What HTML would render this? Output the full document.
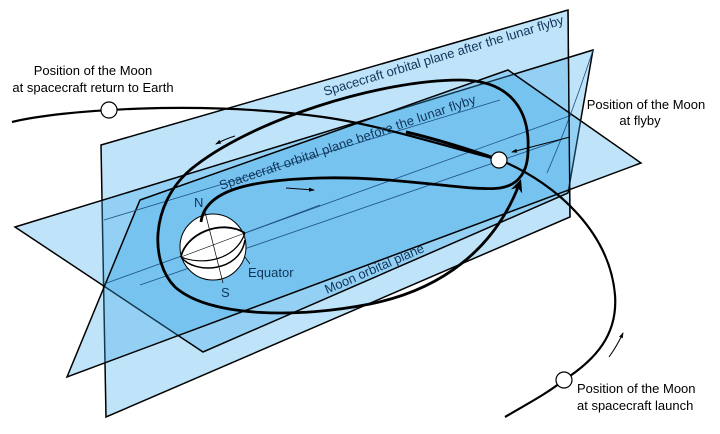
<!DOCTYPE html>
<html><head><meta charset="utf-8"><style>
html,body{margin:0;padding:0;background:#fff;}
svg{display:block;}
text{font-family:"Liberation Sans",Arial,sans-serif;}
</style></head><body>
<svg width="720" height="434" viewBox="0 0 720 434" xmlns="http://www.w3.org/2000/svg">
<defs>
<marker id="ahs" markerWidth="6" markerHeight="6" refX="5" refY="3" orient="auto" markerUnits="userSpaceOnUse"><path d="M0,1 L6,3 L0,5 Z" fill="#000"/></marker>
<marker id="ahb" markerWidth="14" markerHeight="14" refX="10" refY="7" orient="auto" markerUnits="userSpaceOnUse"><path d="M0,1 L13,7 L0,13 L4,7 Z" fill="#000"/></marker>
</defs>
<g fill="rgba(60,170,235,0.33)" stroke="#000" stroke-width="1.5" stroke-linejoin="miter">
<!-- vertical plane A (after flyby) -->
<polygon points="101,145 568,10 570,217 106,417"/>
<!-- plane B1 -->
<polygon points="15,227 593,50 568,193 203,352"/>
<!-- plane B2 -->
<polygon points="140,200 508,70 641,163 67,377"/>
</g>
<!-- thin lines -->
<g stroke="#1b4f80" stroke-width="0.8" fill="none">
<line x1="104" y1="284" x2="572" y2="115"/>
<line x1="104" y1="220" x2="500" y2="100"/>
<line x1="140" y1="285" x2="560" y2="140"/>
<path d="M593,50 Q570,120 547,173"/>
</g>
<line x1="568" y1="10" x2="570" y2="217" stroke="#000" stroke-width="1.2"/>
<!-- Earth -->
<circle cx="213" cy="247" r="33" fill="#fff" stroke="#000" stroke-width="1"/>
<g fill="none" stroke="#000">
<path d="M181,257 C185,235 220,218 245,233" stroke-width="1.8"/>
<path d="M181,257 C200,265 235,262 245,233" stroke-width="1.2"/>
<path d="M181,257 C195,275 240,272 245,240" stroke-width="1.5"/>
<line x1="181" y1="257" x2="245" y2="233" stroke-width="0.6"/>
<line x1="205" y1="212" x2="223" y2="283" stroke-width="0.7"/>
<line x1="245" y1="257" x2="250" y2="264" stroke-width="0.7"/>
</g>
<line x1="245" y1="233" x2="320" y2="205" stroke="#1b4f80" stroke-width="0.7"/>
<!-- Moon trajectory -->
<path d="M12,122 C60,110 200,100 323,117 C380,125 440,145 500,160" fill="none" stroke="#000" stroke-width="2.2"/>
<path d="M406,132 C440,140 470,150 500,160" fill="none" stroke="#000" stroke-width="3.2"/>
<path d="M500,160 C560,185 610,235 615,295 C618,335 595,360 564,380 C545,395 525,405 505,417" fill="none" stroke="#000" stroke-width="2.2"/>
<!-- spacecraft trajectory -->
<path d="M201,222 C205,190 250,180 320,178 C400,176 470,192 500,188 C520,185 528,170 528,150 C530,110 510,80 460,80 C380,80 250,120 190,170 C150,205 150,262 175,287 C210,318 300,318 370,304 C440,290 495,250 520,182" fill="none" stroke="#000" stroke-width="2.8" marker-end="url(#ahb)"/>
<!-- moon circles -->
<circle cx="109" cy="110" r="8" fill="#fff" stroke="#000" stroke-width="1.2"/>
<circle cx="499" cy="160" r="8" fill="#fff" stroke="#000" stroke-width="1.2"/>
<circle cx="564" cy="380" r="8" fill="#fff" stroke="#000" stroke-width="1.2"/>
<!-- small arrows -->
<g stroke="#000" stroke-width="1" fill="none">
<path d="M235,136 Q225,139 216,144" marker-end="url(#ahs)"/>
<path d="M286,188 L314,190" marker-end="url(#ahs)"/>
<path d="M609,357 Q617,346 623,333" marker-end="url(#ahs)"/>
<path d="M570,137 L512,152" marker-end="url(#ahs)"/>
</g>
<!-- labels -->
<g font-size="13" fill="#000">
<text x="93" y="75" text-anchor="middle">Position of the Moon</text>
<text x="93" y="92" text-anchor="middle">at spacecraft return to Earth</text>
<text x="646" y="109" text-anchor="middle">Position of the Moon</text>
<text x="640" y="125" text-anchor="middle">at flyby</text>
<text x="577" y="393">Position of the Moon</text>
<text x="577" y="410">at spacecraft launch</text>
</g>
<g font-size="13" fill="#10355a">
<text transform="translate(325,96) rotate(-16.8)" textLength="250">Spacecraft orbital plane after the lunar flyby</text>
<text transform="translate(221,190) rotate(-18.8)" textLength="270">Spacecraft orbital plane before the lunar flyby</text>
<text transform="translate(327,294) rotate(-23.4)">Moon orbital plane</text>
<text x="194" y="207">N</text>
<text x="221" y="297">S</text>
<text x="248" y="277">Equator</text>
</g>
</svg>
</body></html>
